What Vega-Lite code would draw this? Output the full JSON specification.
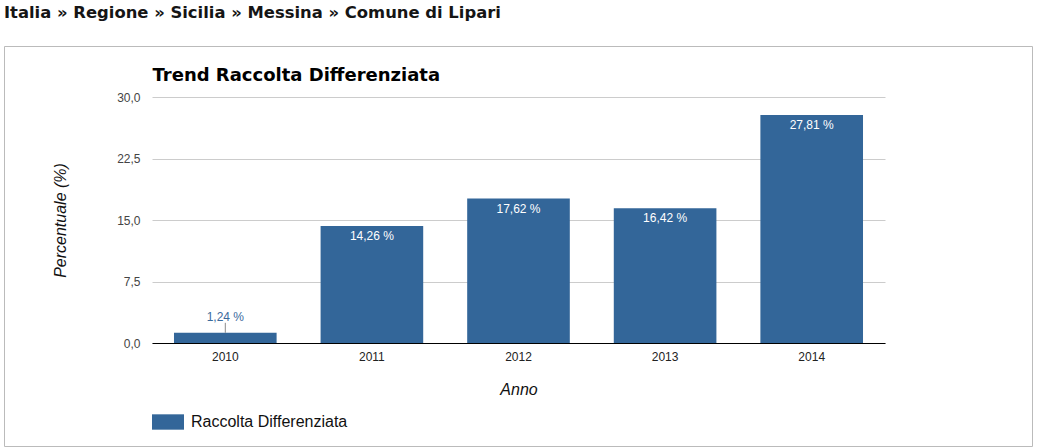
{
  "$schema": "https://vega.github.io/schema/vega-lite/v6.json",
  "width": 1028,
  "height": 400,
  "autosize": "none",
  "padding": {"left": 4, "top": 46, "right": 6, "bottom": 2},
  "background": "white",
  "title": {
    "text": "Italia » Regione » Sicilia » Messina » Comune di Lipari",
    "anchor": "start",
    "frame": "group",
    "font": "DejaVu Sans",
    "fontSize": 16.4,
    "fontWeight": "bold",
    "color": "#151515",
    "baseline": "alphabetic",
    "offset": 12
  },
  "config": {
    "view": {"stroke": "#bbbbbb", "strokeWidth": 1},
    "font": "Liberation Sans"
  },
  "data": {
    "values": [
      {"anno": "2010", "valore": 1.24, "serie": "Raccolta Differenziata"},
      {"anno": "2011", "valore": 14.26, "serie": "Raccolta Differenziata"},
      {"anno": "2012", "valore": 17.62, "serie": "Raccolta Differenziata"},
      {"anno": "2013", "valore": 16.42, "serie": "Raccolta Differenziata"},
      {"anno": "2014", "valore": 27.81, "serie": "Raccolta Differenziata"}
    ]
  },
  "transform": [
    {"calculate": "replace(format(datum.valore, '.2f'), '.', ',') + ' %'", "as": "etichetta"}
  ],
  "layer": [
    {
      "mark": {"type": "bar"},
      "encoding": {
        "x": {
          "field": "anno",
          "type": "nominal",
          "scale": {"range": [148, 881], "paddingInner": 0.3, "paddingOuter": 0.15},
          "axis": {
            "orient": "bottom",
            "offset": -103,
            "domain": true,
            "domainColor": "#000000",
            "domainWidth": 1,
            "ticks": false,
            "grid": false,
            "labelAngle": 0,
            "labelFont": "Liberation Sans",
            "labelFontSize": 12,
            "labelColor": "#222222",
            "labelPadding": 8,
            "title": "Anno",
            "titleFont": "Liberation Sans",
            "titleFontSize": 16,
            "titleFontStyle": "italic",
            "titleFontWeight": "normal",
            "titleColor": "#111111",
            "titleBaseline": "alphabetic",
            "titleY": 51
          }
        },
        "y": {
          "field": "valore",
          "type": "quantitative",
          "scale": {"domain": [0, 30], "range": [297, 51], "nice": false},
          "axis": {
            "orient": "left",
            "offset": -148,
            "domain": false,
            "ticks": false,
            "grid": true,
            "gridColor": "#cccccc",
            "gridWidth": 1,
            "values": [0, 7.5, 15, 22.5, 30],
            "labelExpr": "replace(format(datum.value, '.1f'), '.', ',')",
            "labelFont": "Liberation Sans",
            "labelFontSize": 12,
            "labelColor": "#444444",
            "labelPadding": 12,
            "title": "Percentuale (%)",
            "titleFont": "Liberation Sans",
            "titleFontSize": 16,
            "titleFontStyle": "italic",
            "titleFontWeight": "normal",
            "titleColor": "#111111",
            "titleAngle": -90,
            "titleAlign": "center",
            "titleBaseline": "middle",
            "titleX": -92,
            "titleY": 174
          }
        },
        "color": {
          "field": "serie",
          "type": "nominal",
          "scale": {"range": ["#336699"]},
          "legend": {
            "orient": "none",
            "legendX": 148,
            "legendY": 360,
            "title": null,
            "padding": 0,
            "symbolType": "M-1,-0.48L1,-0.48L1,0.48L-1,0.48Z",
            "symbolSize": 1024,
            "symbolStrokeWidth": 0,
            "symbolOpacity": 1,
            "labelFont": "Liberation Sans",
            "labelFontSize": 16,
            "labelColor": "#111111",
            "labelOffset": 7
          }
        }
      }
    },
    {
      "transform": [{"filter": "datum.valore >= 5"}],
      "mark": {"type": "text", "baseline": "top", "dy": 5, "color": "#ffffff", "font": "Liberation Sans", "fontSize": 12},
      "encoding": {
        "x": {
          "field": "anno",
          "type": "nominal",
          "axis": {
            "orient": "top",
            "labels": false,
            "ticks": false,
            "domain": false,
            "grid": false,
            "title": "Trend Raccolta Differenziata",
            "titleFont": "DejaVu Sans",
            "titleFontSize": 18,
            "titleFontWeight": "bold",
            "titleColor": "#000000",
            "titleAlign": "left",
            "titleBaseline": "alphabetic",
            "titleAngle": 0,
            "titleX": 148,
            "titleY": 34
          }
        },
        "y": {"field": "valore", "type": "quantitative"},
        "text": {"field": "etichetta", "type": "nominal"}
      }
    },
    {
      "transform": [{"filter": "datum.valore < 5"}],
      "mark": {"type": "text", "baseline": "alphabetic", "dy": -12, "color": "#3b6a9c", "font": "Liberation Sans", "fontSize": 12},
      "encoding": {
        "x": {"field": "anno", "type": "nominal", "axis": null},
        "y": {"field": "valore", "type": "quantitative"},
        "text": {"field": "etichetta", "type": "nominal"}
      }
    },
    {
      "transform": [{"filter": "datum.valore < 5"}],
      "mark": {"type": "rule", "color": "#8a8a8a", "strokeWidth": 1, "y2Offset": -10},
      "encoding": {
        "x": {"field": "anno", "type": "nominal", "axis": null},
        "y": {"field": "valore", "type": "quantitative"},
        "y2": {"field": "valore"}
      }
    }
  ],
  "resolve": {"axis": {"x": "independent"}}
}
